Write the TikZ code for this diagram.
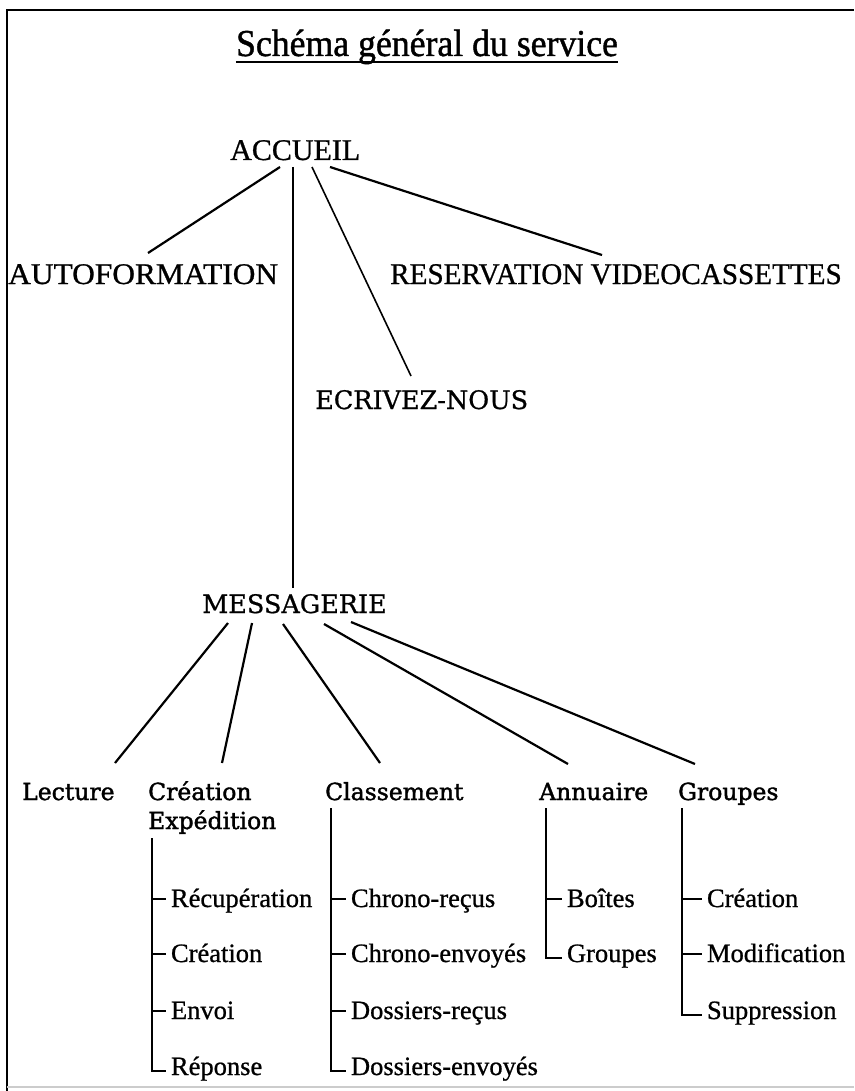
\documentclass[tikz,border=0pt]{standalone}
\usepackage{fontspec}
\setmainfont{Liberation Serif}[FakeBold=0.8]
\newfontfamily\hdfont{DejaVu Serif}[FakeBold=1.6]
\newfontfamily\midfont{DejaVu Serif}[FakeBold=0.8]
\newfontfamily\titlefont{Liberation Serif}[FakeBold=1.2]
\usetikzlibrary{calc}
\begin{document}
\begin{tikzpicture}[x=1pt,y=-1pt,
  lbl/.style={inner sep=0pt, anchor=base west},
  toplbl/.style={lbl, font=\fontsize{30}{32}\selectfont},
  midlbl/.style={lbl, font=\midfont\fontsize{25.5}{28}\selectfont},
  hdlbl/.style={lbl, font=\hdfont\fontsize{23.5}{26}\selectfont},
  itm/.style={inner sep=0pt, outer xsep=5pt, anchor=base west, font=\fontsize{26.5}{28}\selectfont},
  ln/.style={line width=2.2pt},
  lnthin/.style={line width=1.6pt},
  br/.style={line width=2pt},
  frame/.style={line width=2.5pt},
]
\useasboundingbox (0,0) rectangle (854,1091);
% frame
\draw[frame] (7,1091) -- (7,10) -- (854,10);
\draw[black!20, line width=1.5pt] (7,1087) -- (854,1087);
% title
\node[anchor=base, inner sep=0pt, font=\titlefont\fontsize{38}{40}\selectfont] (title) at (427,56) {\scalebox{0.94}[1]{Schéma général du service}};
\draw[line width=2.2pt] ($(title.base west)+(0,6)$) -- ($(title.base east)+(0,6)$);
% upper level
\node[toplbl] (accueil) at (230,160) {ACCUEIL};
\node[toplbl] (autof) at (8,284) {\scalebox{1.047}[1]{AUTOFORMATION}};
\node[toplbl] (resa) at (390,284) {\scalebox{0.972}[1]{RESERVATION VIDEOCASSETTES}};
\node[midlbl] (ecr) at (315,409) {ECRIVEZ-NOUS};
\node[midlbl] (mess) at (202,613) {MESSAGERIE};
\draw[ln] ($(accueil.base west)+(50,7)$) -- ($(autof.base west)+(140,-31)$);
\draw[ln] ($(accueil.base west)+(63,7)$) -- ($(mess.base west)+(91,-25)$);
\draw[lnthin] ($(accueil.base west)+(82,7)$) -- ($(ecr.base west)+(96,-33)$);
\draw[ln] ($(accueil.base west)+(100,7)$) -- ($(resa.base west)+(212,-29)$);
% second level
\node[hdlbl] (lect) at (22,800) {Lecture};
\node[hdlbl] (crea) at (148,800) {Création};
\node[hdlbl] (exped) at (148,829) {Expédition};
\node[hdlbl] (cla) at (325,800) {Classement};
\node[hdlbl] (ann) at (539,800) {Annuaire};
\node[hdlbl] (grp) at (678,800) {Groupes};
\draw[ln] ($(mess.base west)+(26,10)$) -- ($(lect.base west)+(93,-37)$);
\draw[ln] ($(mess.base west)+(50,10)$) -- ($(crea.base west)+(74,-37)$);
\draw[ln] ($(mess.base west)+(81,11)$) -- ($(cla.base west)+(55,-37)$);
\draw[ln] ($(mess.base west)+(122,11)$) -- ($(ann.base west)+(29,-36)$);
\draw[ln] ($(mess.base west)+(149,9)$) -- ($(grp.base west)+(17,-36)$);
% branch: Creation Expedition
\coordinate (bx1) at ($(exped.base west)+(4,9)$);
\node[itm] (recup) at (166,907) {Récupération};
\node[itm] (creat) at (166,962) {Création};
\node[itm] (envoi) at (166,1019) {Envoi};
\node[itm] (repon) at (166,1075) {Réponse};
% branch: Classement
\coordinate (bx2) at ($(cla.base west)+(6,8)$);
\node[itm] (chr) at (346,907) {Chrono-reçus};
\node[itm] (che) at (346,962) {Chrono-envoyés};
\node[itm] (dor) at (346,1019) {Dossiers-reçus};
\node[itm] (doe) at (346,1075) {Dossiers-envoyés};
% branch: Annuaire
\coordinate (bx3) at ($(ann.base west)+(7,8)$);
\node[itm] (boi) at (562,907) {Boîtes};
\node[itm] (agr) at (562,962) {Groupes};
% branch: Groupes
\coordinate (bx4) at ($(grp.base west)+(4,8)$);
\node[itm] (gcr) at (702,907) {Création};
\node[itm] (gmo) at (702,962) {Modification};
\node[itm] (gsu) at (702,1019) {Suppression};
% tick coordinates
\foreach \n in {recup,creat,envoi,chr,che,dor,boi,gcr,gmo} \coordinate (t\n) at ($(\n.base west)+(0,-8)$);
\foreach \n in {repon,doe,agr,gsu} \coordinate (t\n) at ($(\n.base west)+(0,-4)$);
% branch lines
\draw[br] (bx1) |- (trepon);
\draw[br] (bx2) |- (tdoe);
\draw[br] (bx3) |- (tagr);
\draw[br] (bx4) |- (tgsu);
\foreach \n in {recup,creat,envoi} \draw[br] (t\n -| bx1) -- (t\n);
\foreach \n in {chr,che,dor} \draw[br] (t\n -| bx2) -- (t\n);
\draw[br] (tboi -| bx3) -- (tboi);
\foreach \n in {gcr,gmo} \draw[br] (t\n -| bx4) -- (t\n);
\end{tikzpicture}
\end{document}
